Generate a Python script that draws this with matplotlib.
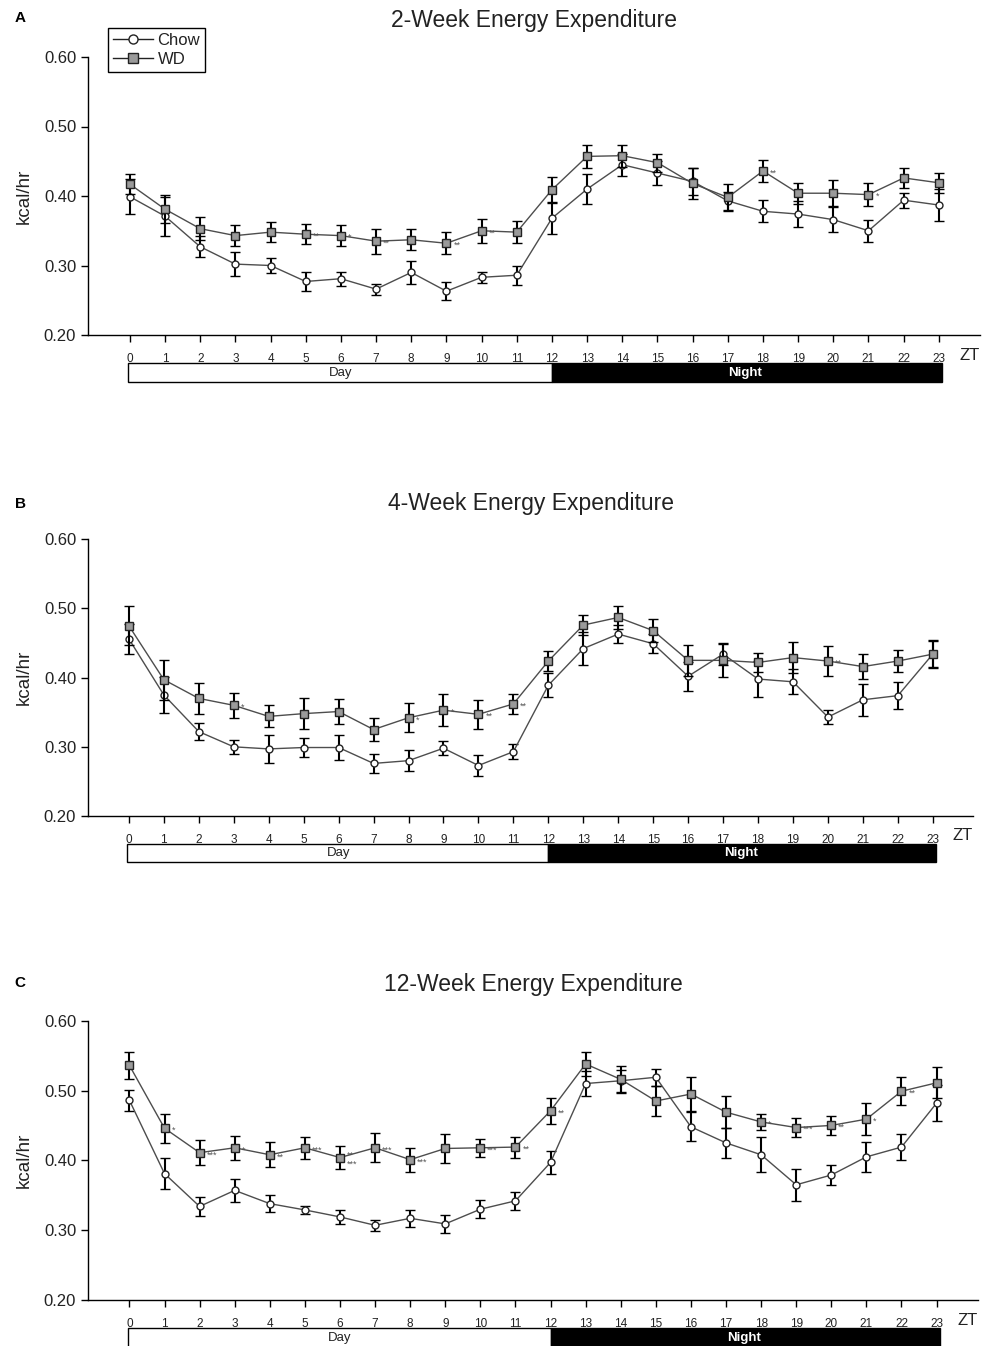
"""
Hourly energy expenditure (kcal/hr) across the ZT day for Chow vs WD mice,
at 2, 4 and 12 weeks of diet. Three stacked panels with Day/Night bars.
"""

import matplotlib
matplotlib.use("Agg")
import matplotlib.pyplot as plt
import matplotlib.transforms as mtransforms
from matplotlib.lines import Line2D
from matplotlib.patches import Rectangle

plt.rcParams["font.family"] = ["Liberation Sans", "DejaVu Sans"]

# ── Data ─────────────────────────────────────────────────────────────────────
HOURS = list(range(24))

chow_2wk = [0.399, 0.371, 0.327, 0.302, 0.300, 0.277, 0.281, 0.266, 0.290, 0.263,
            0.283, 0.286, 0.368, 0.410, 0.445, 0.433, 0.421, 0.393, 0.378, 0.374,
            0.366, 0.350, 0.394, 0.387]
chow_2wk_err = [0.025, 0.028, 0.015, 0.017, 0.011, 0.014, 0.010, 0.008, 0.016, 0.013,
                0.008, 0.014, 0.023, 0.022, 0.016, 0.017, 0.020, 0.013, 0.016, 0.019,
                0.018, 0.016, 0.011, 0.023]
wd_2wk = [0.417, 0.381, 0.353, 0.343, 0.348, 0.345, 0.343, 0.335, 0.337, 0.332,
          0.350, 0.348, 0.409, 0.457, 0.458, 0.448, 0.418, 0.398, 0.436, 0.404,
          0.404, 0.402, 0.426, 0.419]
wd_2wk_err = [0.014, 0.020, 0.017, 0.015, 0.014, 0.014, 0.015, 0.018, 0.015, 0.016,
              0.017, 0.016, 0.019, 0.017, 0.016, 0.013, 0.023, 0.019, 0.016, 0.015,
              0.019, 0.016, 0.015, 0.014]

chow_4wk = [0.456, 0.375, 0.322, 0.300, 0.297, 0.299, 0.299, 0.276, 0.280, 0.298,
            0.273, 0.293, 0.389, 0.442, 0.463, 0.449, 0.402, 0.434, 0.398, 0.394,
            0.343, 0.368, 0.374, 0.434]
chow_4wk_err = [0.022, 0.026, 0.012, 0.010, 0.020, 0.014, 0.018, 0.014, 0.015, 0.010,
                0.015, 0.011, 0.017, 0.024, 0.013, 0.014, 0.021, 0.016, 0.026, 0.018,
                0.010, 0.023, 0.020, 0.019]
wd_4wk = [0.475, 0.397, 0.370, 0.360, 0.344, 0.348, 0.351, 0.325, 0.342, 0.353,
          0.347, 0.362, 0.424, 0.476, 0.487, 0.468, 0.425, 0.425, 0.422, 0.429,
          0.424, 0.416, 0.424, 0.434]
wd_4wk_err = [0.028, 0.029, 0.022, 0.018, 0.016, 0.022, 0.018, 0.017, 0.021, 0.023,
              0.021, 0.015, 0.015, 0.014, 0.016, 0.017, 0.022, 0.024, 0.014, 0.023,
              0.022, 0.018, 0.016, 0.020]

chow_12wk = [0.486, 0.381, 0.334, 0.357, 0.338, 0.329, 0.319, 0.307, 0.317, 0.309,
             0.330, 0.342, 0.397, 0.510, 0.514, 0.519, 0.448, 0.425, 0.408, 0.365,
             0.379, 0.405, 0.419, 0.482]
chow_12wk_err = [0.015, 0.022, 0.013, 0.017, 0.012, 0.006, 0.010, 0.008, 0.012, 0.013,
                 0.013, 0.013, 0.016, 0.018, 0.016, 0.012, 0.021, 0.021, 0.025, 0.023,
                 0.015, 0.021, 0.019, 0.026]
wd_12wk = [0.536, 0.446, 0.411, 0.418, 0.408, 0.418, 0.404, 0.418, 0.401, 0.417,
           0.418, 0.419, 0.471, 0.538, 0.516, 0.485, 0.495, 0.469, 0.455, 0.447,
           0.450, 0.459, 0.499, 0.511]
wd_12wk_err = [0.019, 0.021, 0.018, 0.017, 0.018, 0.016, 0.017, 0.021, 0.017, 0.021,
               0.013, 0.015, 0.019, 0.017, 0.019, 0.021, 0.025, 0.023, 0.012, 0.014,
               0.014, 0.023, 0.020, 0.022]

# significance marks next to WD points: (hour, stars)
sig_2wk = [(5, "**"), (6, "*"), (7, "**"), (9, "**"), (10, "**"), (18, "**"), (21, "*")]
sig_4wk = [(3, "*"), (8, "*"), (9, "*"), (10, "**"), (11, "**"), (20, "**")]
sig_12wk = [(1, "*"), (2, "***"), (3, "*"), (4, "**"), (5, "***"), (6, "**"),
            (6, "***"), (7, "***"), (8, "***"), (10, "***"), (11, "**"), (12, "**"),
            (18, "*"), (19, "***"), (20, "**"), (21, "*"), (22, "**")]

TITLES = ["2-Week Energy Expenditure", "4-Week Energy Expenditure",
          "12-Week Energy Expenditure"]
LETTERS = ["A", "B", "C"]
YTICKS = [0.20, 0.30, 0.40, 0.50, 0.60]

# ── Layout (figure fractions: left, bottom, width, height) ───────────────────
W, H = 984, 1346
AX_POS = [
    (88 / W, (H - 335) / H, 892 / W, 278 / H),
    (88 / W, (H - 816) / H, 885 / W, 276.7 / H),
    (88 / W, (H - 1300) / H, 890 / W, 279.3 / H),
]
XLIMS = [(-1.19, 24.17), (-1.17, 24.15), (-1.18, 24.18)]
LETTER_Y = [0.9866, 0.6256, 0.2697]

TEXT_C = "#222222"
LINE_C = "#4d4d4d"
WD_FILL = "#9a9a9a"


def draw_panel(ax, chow, chow_err, wd, wd_err, sig, title, xlim):
    ax.errorbar(HOURS, chow, yerr=chow_err, fmt="o-", color=LINE_C, lw=1.0,
                ms=5, mfc="white", mec="#222222", mew=1.0,
                ecolor="black", elinewidth=1.5, capsize=3.5, capthick=1.5,
                zorder=3)
    ax.errorbar(HOURS, wd, yerr=wd_err, fmt="s-", color=LINE_C, lw=1.0,
                ms=5.5, mfc=WD_FILL, mec="#222222", mew=1.0,
                ecolor="black", elinewidth=1.5, capsize=3.5, capthick=1.5,
                zorder=4)

    # stars beside WD markers; a repeated hour is split into two rows
    counts = {}
    for h, _ in sig:
        counts[h] = counts.get(h, 0) + 1
    seen = {}
    for h, s in sig:
        row = seen.get(h, 0)
        seen[h] = row + 1
        if counts[h] > 1:
            dy = 2 if row == 0 else -5
        else:
            dy = -1.5
        ax.annotate(s, (h, wd[h]), xytext=(5, dy), textcoords="offset points",
                    fontsize=6.5, color="#555555", ha="left", va="center",
                    zorder=5)

    ax.set_xlim(*xlim)
    ax.set_ylim(0.2, 0.6)
    ax.set_yticks(YTICKS)
    ax.set_yticklabels([f"{v:.2f}" for v in YTICKS], fontsize=12, color=TEXT_C)
    ax.set_xticks(HOURS)
    ax.set_xticklabels([str(h) for h in HOURS], fontsize=8.5, color=TEXT_C)
    ax.tick_params(axis="both", direction="out", length=5, width=1.0,
                   colors="black", labelcolor=TEXT_C)
    ax.tick_params(axis="x", pad=8)
    for side in ("top", "right"):
        ax.spines[side].set_visible(False)
    ax.spines["left"].set_linewidth(1.0)
    ax.spines["bottom"].set_linewidth(1.0)
    ax.set_ylabel("kcal/hr", fontsize=13.5, color=TEXT_C, labelpad=8)

    ax.text(0.5, 1.13, title, transform=ax.transAxes, ha="center",
            va="center", fontsize=16.5, color=TEXT_C)
    ax.text(1.0, -0.045, "ZT", transform=ax.transAxes, ha="right",
            va="top", fontsize=12, color=TEXT_C)

    # Day / Night bar under the axis
    trans = mtransforms.blended_transform_factory(ax.transData, ax.transAxes)
    y0, hgt = -0.168, 0.066
    ax.add_patch(Rectangle((-0.05, y0), 12.05, hgt, transform=trans,
                           facecolor="white", edgecolor="black", lw=1.0,
                           clip_on=False))
    ax.add_patch(Rectangle((12.0, y0), 11.1, hgt, transform=trans,
                           facecolor="black", edgecolor="black", lw=1.0,
                           clip_on=False))
    ax.text(6.0, y0 + hgt / 2, "Day", transform=trans, ha="center",
            va="center", fontsize=9.5, color=TEXT_C)
    ax.text(17.5, y0 + hgt / 2, "Night", transform=trans, ha="center",
            va="center", fontsize=9.5, color="white", fontweight="bold")


fig = plt.figure(figsize=(W / 100, H / 100), dpi=100)

panels = [
    (chow_2wk, chow_2wk_err, wd_2wk, wd_2wk_err, sig_2wk),
    (chow_4wk, chow_4wk_err, wd_4wk, wd_4wk_err, sig_4wk),
    (chow_12wk, chow_12wk_err, wd_12wk, wd_12wk_err, sig_12wk),
]
axes = []
for i, (c, ce, w, we, sig) in enumerate(panels):
    ax = fig.add_axes(AX_POS[i])
    draw_panel(ax, c, ce, w, we, sig, TITLES[i], XLIMS[i])
    fig.text(0.015, LETTER_Y[i], LETTERS[i], fontsize=11, fontweight="bold",
             color="black", ha="left", va="center")
    axes.append(ax)

handles = [
    Line2D([], [], color="#222222", lw=1.0, marker="o", ms=6.5, mfc="white",
           mec="#222222", mew=1.0),
    Line2D([], [], color="#222222", lw=1.0, marker="s", ms=6.5, mfc=WD_FILL,
           mec="#222222", mew=1.0),
]
leg = axes[0].legend(handles, ["Chow", "WD"], loc="upper left",
                     bbox_to_anchor=(0.022, 1.105),
                     fontsize=12, frameon=True, fancybox=False,
                     edgecolor="black", framealpha=1.0, handlelength=2.4,
                     handletextpad=0.3, borderpad=0.3, labelspacing=0.25,
                     borderaxespad=0.0)
leg.get_frame().set_linewidth(1.0)
for t in leg.get_texts():
    t.set_color(TEXT_C)

fig.savefig("out.png", dpi=100)
